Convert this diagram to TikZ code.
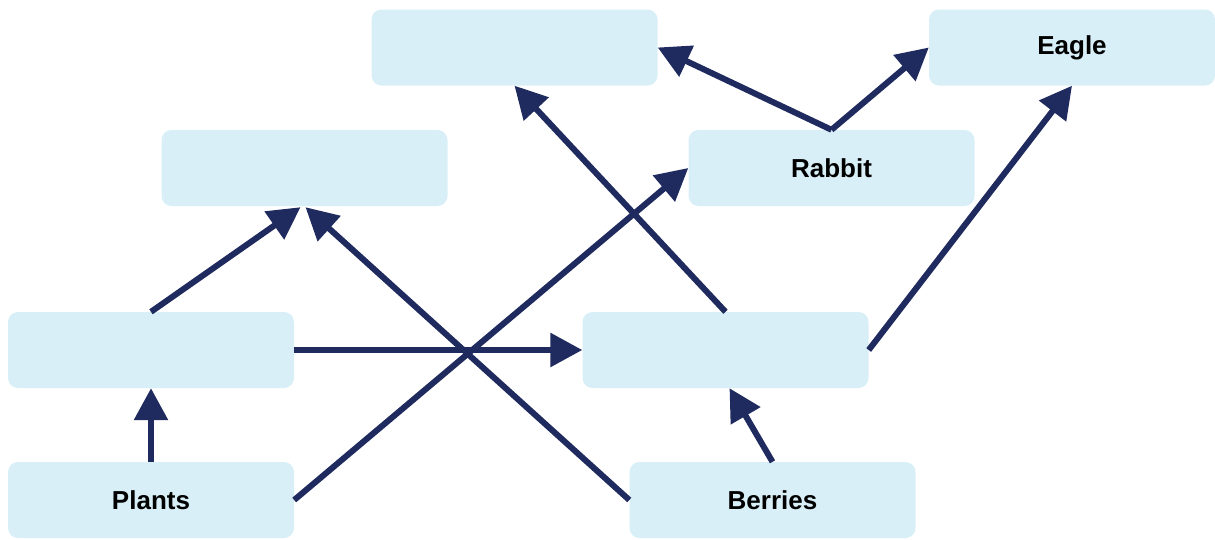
\documentclass[tikz,border=0pt]{standalone}
\usepackage{fontspec}
\setmainfont{Liberation Sans}
\usetikzlibrary{arrows.meta}
\definecolor{boxfill}{HTML}{D8EFF7}
\definecolor{arrowcol}{HTML}{1F2B5E}
\tikzset{
  fbox/.style={rectangle, rounded corners=10pt, fill=boxfill, minimum width=286pt, minimum height=76pt, inner sep=0pt, font=\fontsize{26}{30}\selectfont\bfseries},
  farrow/.style={draw=arrowcol, line width=6pt, -{Triangle[width=33pt,length=32pt]}, arrowcol}
}
\begin{document}
\begin{tikzpicture}[x=1pt,y=-1pt]
\useasboundingbox (0,0) rectangle (1215,539);
\node[fbox] (A) at (514.5,47.5) {};
\node[fbox] (eagle) at (1072,47.5) {Eagle};
\node[fbox] (B) at (304.5,168) {};
\node[fbox] (rabbit) at (831.5,168) {Rabbit};
\node[fbox] (C) at (151,350) {};
\node[fbox] (D) at (725.5,350) {};
\node[fbox] (plants) at (151,500) {Plants};
\node[fbox] (berries) at (772.5,500) {Berries};
\draw[farrow] (rabbit.north) -- (A.east);
\draw[farrow] (rabbit.north) -- (eagle.west);
\draw[farrow] (D.north) -- (A.south);
\draw[farrow] (D.east) -- (eagle.south);
\draw[farrow] (plants.east) -- (rabbit.west);
\draw[farrow] (berries.west) -- ([xshift=1pt,yshift=-1pt]B.south);
\draw[farrow] (C.north) -- ([xshift=-4pt,yshift=-1pt]B.south);
\draw[farrow] (C.east) -- (D.west);
\draw[farrow] (plants.north) -- (C.south);
\draw[farrow] (berries.north) -- ([xshift=4pt]D.south);
\end{tikzpicture}
\end{document}
